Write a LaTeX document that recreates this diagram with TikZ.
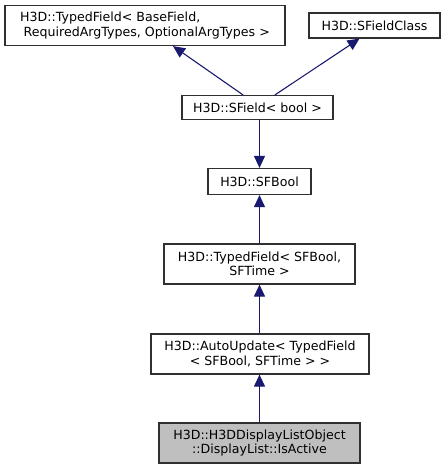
\documentclass[tikz,border=0pt]{standalone}
\usepackage{fontspec}
\setmainfont{DejaVu Sans}
\usetikzlibrary{arrows.meta}
\definecolor{edgeblue}{HTML}{191970}
\definecolor{boxgray}{HTML}{BFBFBF}
\definecolor{boxline}{HTML}{303030}
\begin{document}
\begin{tikzpicture}[x=1pt,y=-1pt,
  cls/.style={draw=boxline,line width=1.2pt,fill=white,inner sep=0pt,font=\fontsize{12.6}{14.3}\selectfont,align=center},
  arr/.style={draw=edgeblue,line width=1.1pt,-{Triangle[length=12pt,width=11pt]}}]
\useasboundingbox (0,0) rectangle (445,469);
\node[cls,minimum width=280pt,minimum height=40pt,align=left] (tf) at (145,25.5) {H3D::TypedField< BaseField,\\\hspace*{3.5pt}RequiredArgTypes, OptionalArgTypes >};
\node[cls,minimum width=131pt,minimum height=25pt] (sfc) at (374.5,25.5) {H3D::SFieldClass};
\node[cls,minimum width=151pt,minimum height=24pt] (sfb) at (257.5,107.5) {H3D::SField< bool >};
\node[cls,minimum width=103pt,minimum height=26pt] (bool) at (259.5,181.5) {H3D::SFBool};
\node[cls,minimum width=191pt,minimum height=40pt] (tft) at (259.5,264) {H3D::TypedField< SFBool,\\ SFTime >};
\node[cls,minimum width=218pt,minimum height=40pt] (au) at (260,354) {H3D::AutoUpdate< TypedField\\ < SFBool, SFTime > >};
\node[cls,fill=boxgray,minimum width=201pt,minimum height=40pt] (act) at (259.5,443) {H3D::H3DDisplayListObject\\ ::DisplayList::IsActive};
\draw[arr] ([xshift=-14.5pt]sfb.north) -- ([xshift=28pt]tf.south);
\draw[arr] ([xshift=17.5pt]sfb.north) -- ([xshift=-15pt]sfc.south);
\draw[arr] (sfb.south -| bool.north) -- (bool.north) ;
\draw[arr] (tft.north) -- (bool.south);
\draw[arr] (au.north -| tft.north) -- (tft.south);
\draw[arr] (act.north -| tft.north) -- (au.south -| tft.north);
\end{tikzpicture}
\end{document}
